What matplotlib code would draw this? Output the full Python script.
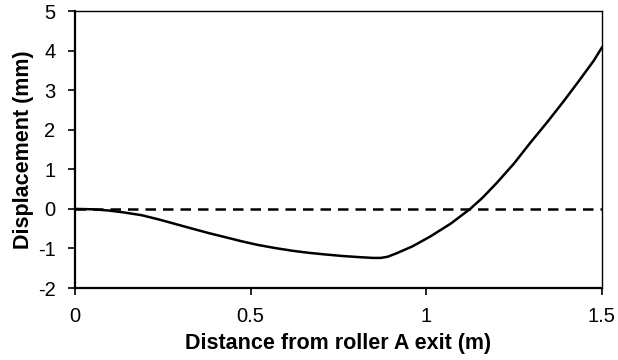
import matplotlib
matplotlib.use('Agg')
import matplotlib.pyplot as plt

plt.rcParams['font.family'] = ['Liberation Sans', 'DejaVu Sans']
plt.rcParams['axes.unicode_minus'] = False

# displacement along the strip
distance = [0.0, 0.05, 0.095, 0.14, 0.19, 0.24, 0.285, 0.33, 0.38, 0.43, 0.475, 0.52,
            0.57, 0.62, 0.665, 0.71, 0.76, 0.81, 0.85, 0.87, 0.89, 0.916, 0.96, 1.011,
            1.07, 1.125, 1.16, 1.201, 1.25, 1.296, 1.345, 1.391, 1.435, 1.477, 1.5]
displacement = [0.0, -0.01, -0.04, -0.09, -0.16, -0.27, -0.38, -0.49, -0.61, -0.72, -0.82, -0.91,
                -0.99, -1.06, -1.11, -1.15, -1.19, -1.22, -1.24, -1.24, -1.21, -1.12, -0.95, -0.70,
                -0.37, 0.0, 0.28, 0.66, 1.15, 1.67, 2.2, 2.72, 3.24, 3.75, 4.08]

x_ticks = [0, 0.5, 1, 1.5]
x_tick_labels = ['0', '0.5', '1', '1.5']
y_ticks = [-2, -1, 0, 1, 2, 3, 4, 5]

fig = plt.figure(figsize=(6.18, 3.6), dpi=100)
ax = fig.add_axes([0.1214, 0.2, 0.8525, 0.769])

ax.plot(distance, displacement, color='black', linewidth=1.8, solid_joinstyle='round')
ax.axhline(0, color='black', linewidth=1.8, linestyle=(0, (4.2, 2.8)))

ax.set_xlim(0, 1.5)
ax.set_ylim(-2, 5)
ax.set_xticks(x_ticks)
ax.set_xticklabels(x_tick_labels)
ax.set_yticks(y_ticks)

ax.tick_params(direction='out', length=5, width=1.2, labelsize=14.5)
ax.tick_params(axis='x', pad=9)
ax.tick_params(axis='y', pad=9)
ax.spines['left'].set_linewidth(1.6)
ax.spines['bottom'].set_linewidth(1.6)
ax.spines['top'].set_linewidth(1.0)
ax.spines['right'].set_linewidth(1.0)

ax.set_xlabel('Distance from roller A exit (m)', fontsize=15.5, fontweight='bold', labelpad=5)
ax.set_ylabel('Displacement (mm)', fontsize=15.5, fontweight='bold', labelpad=3)

plt.savefig('out.png', dpi=100)
plt.close()
